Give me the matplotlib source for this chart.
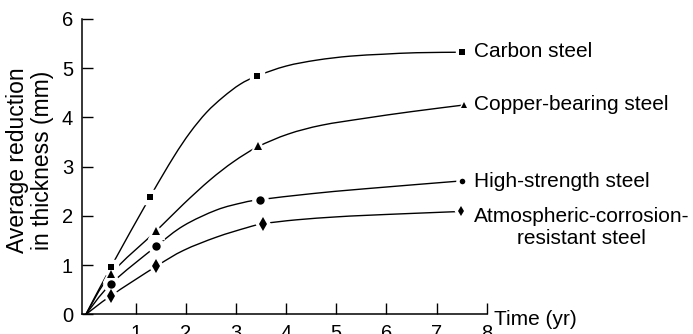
import matplotlib
matplotlib.use("Agg")
import matplotlib.pyplot as plt
from matplotlib.path import Path
from matplotlib.patches import PathPatch
import numpy as np

plt.rcParams['font.family'] = ['Liberation Sans', 'DejaVu Sans']

# ---- data ----
series_names = ["Carbon steel", "Copper-bearing steel", "High-strength steel",
                "Atmospheric-corrosion-\nresistant steel"]
markers = ["s", "^", "o", "d"]

carbon_x = [0.50, 1.28, 3.42, 7.50]
carbon_y = [0.96, 2.38, 4.84, 5.32]
copper_x = [0.50, 1.40, 3.43, 7.55]
copper_y = [0.82, 1.69, 3.42, 4.25]
high_x = [0.50, 1.40, 3.48, 7.50]
high_y = [0.62, 1.38, 2.32, 2.71]
atmo_x = [0.50, 1.41, 3.53, 7.49]
atmo_y = [0.38, 0.98, 1.84, 2.09]

# fitted curves
carbon_curve_x = [0, 0.50, 1.28, 1.75, 2.08, 2.41, 2.74, 3.08, 3.42, 4.00, 4.61, 5.27, 5.94, 6.60, 7.50]
carbon_curve_y = [0, 0.96, 2.38, 3.19, 3.69, 4.10, 4.41, 4.67, 4.84, 5.04, 5.16, 5.24, 5.28, 5.31, 5.32]
copper_curve_x = [0, 0.50, 1.40, 1.95, 2.48, 2.95, 3.43, 4.04, 4.71, 5.57, 6.50, 7.55]
copper_curve_y = [0, 0.82, 1.69, 2.24, 2.73, 3.10, 3.40, 3.66, 3.84, 3.98, 4.115, 4.25]
high_curve_x = [0, 0.50, 1.40, 1.95, 2.61, 3.14, 3.48, 4.50, 5.57, 7.50]
high_curve_y = [0, 0.62, 1.38, 1.80, 2.12, 2.27, 2.33, 2.45, 2.55, 2.71]
atmo_curve_x = [0, 0.50, 1.41, 1.95, 2.61, 3.21, 3.53, 4.20, 5.00, 5.57, 6.50, 7.49]
atmo_curve_y = [0, 0.38, 0.98, 1.30, 1.57, 1.76, 1.84, 1.92, 1.98, 2.01, 2.05, 2.09]

x_ticks = [1, 2, 3, 4, 5, 6, 7, 8]
y_ticks = [0, 1, 2, 3, 4, 5, 6]

fig = plt.figure(figsize=(6.93, 3.34), dpi=100)
ax = fig.add_axes([0.1183, 0.0584, 0.5839, 0.8856])
ax.set_xlim(-0.076, 8)
ax.set_ylim(0, 6)


def smooth_path(xs, ys):
    pts = np.column_stack([xs, ys]).astype(float)
    n = len(pts)
    verts = [pts[0]]
    codes = [Path.MOVETO]
    for i in range(n - 1):
        p0 = pts[i - 1] if i > 0 else pts[i]
        p1 = pts[i]
        p2 = pts[i + 1]
        p3 = pts[i + 2] if i + 2 < n else pts[i + 1]
        c1 = p1 + (p2 - p0) / 6.0
        c2 = p2 - (p3 - p1) / 6.0
        verts += [c1, c2, p2]
        codes += [Path.CURVE4] * 3
    return Path(verts, codes)


curves = [(carbon_curve_x, carbon_curve_y), (copper_curve_x, copper_curve_y),
          (high_curve_x, high_curve_y), (atmo_curve_x, atmo_curve_y)]
points = [(carbon_x, carbon_y), (copper_x, copper_y), (high_x, high_y), (atmo_x, atmo_y)]
inner_ms = {"s": 5.0, "^": 6.0, "o": 6.0, "d": 7.5}
end_ms = {"s": 4.0, "^": 4.5, "o": 4.0, "d": 5.5}

for (cx, cy) in curves:
    ax.add_patch(PathPatch(smooth_path(cx, cy), fill=False, lw=1.0,
                           edgecolor="black", zorder=2, clip_on=False))

for (px, py), m in zip(points, markers):
    ax.plot(px[:-1], py[:-1], ls="none", marker=m, ms=inner_ms[m] + 5,
            color="white", mec="white", zorder=3, clip_on=False)
    ax.plot(px[-1:], py[-1:], ls="none", marker=m, ms=end_ms[m] + 4,
            color="white", mec="white", zorder=3, clip_on=False)
for (px, py), m in zip(points, markers):
    ax.plot(px[:-1], py[:-1], ls="none", marker=m, ms=inner_ms[m],
            color="black", mew=0, zorder=4, clip_on=False)
    ax.plot(px[-1:], py[-1:], ls="none", marker=m, ms=end_ms[m],
            color="black", mew=0, zorder=4, clip_on=False)

# right-side labels (baseline of the last line of each label)
label_x = 7.75
label_y = [5.22, 4.15, 2.59, 1.44]
for name, ly in zip(series_names, label_y):
    ax.text(label_x, ly, name, fontsize=15, ha="left", va="baseline",
            multialignment="center", linespacing=1.2, clip_on=False)

ax.text(8.15, -0.11, "Time (yr)", fontsize=15, ha="left", va="center", clip_on=False)

fig.text(30 / 693, 1 - 160 / 334, "Average reduction\nin thickness (mm)",
         rotation=90, ha="center", va="center", multialignment="center",
         fontsize=16.5, linespacing=1.1)

for s in ["top", "right"]:
    ax.spines[s].set_visible(False)
for s in ["left", "bottom"]:
    ax.spines[s].set_linewidth(1.1)

ax.set_xticks(x_ticks)
ax.set_xticklabels([str(t) for t in x_ticks])
ax.set_yticks(y_ticks)
ax.set_yticklabels([str(t) for t in y_ticks])
ax.tick_params(direction="in", length=8, width=1.0, labelsize=14.5, pad=6.5)
ax.tick_params(axis="x", pad=7)

fig.savefig("out.png", dpi=100)
